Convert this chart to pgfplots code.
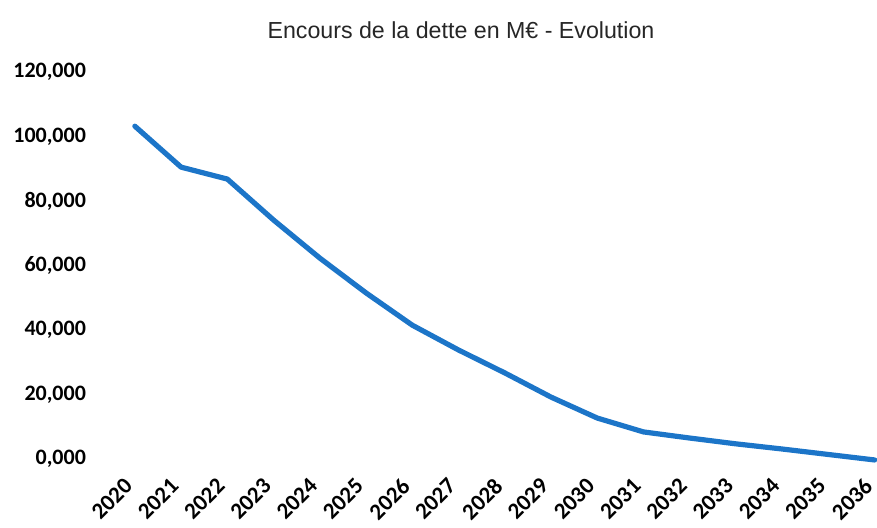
\documentclass[border=0pt]{standalone}
\usepackage{fontspec}
\setmainfont{Carlito}
\newfontfamily\arialf{Liberation Sans}
\usepackage{pgfplots}
\pgfplotsset{compat=1.18}
\definecolor{linecol}{RGB}{28,117,200}
\begin{document}
\begin{tikzpicture}
\path[use as bounding box] (0pt,0pt) rectangle (438.5pt,263.5pt);
\node[font=\arialf\fontsize{11.6}{13}\selectfont, text=black!85] at (230.5pt,248.5pt) {Encours de la dette en M€ - Evolution};
\begin{axis}[
  at={(60.5pt,34pt)}, anchor=south west,
  scale only axis, width=378pt, height=193.5pt,
  xmin=-0.3, xmax=16.05, ymin=0, ymax=120,
  axis line style={draw=none},
  major tick length=0pt,
  xtick={0,...,16},
  xticklabels={2020,2021,2022,2023,2024,2025,2026,2027,2028,2029,2030,2031,2032,2033,2034,2035,2036},
  ytick={0,20,...,120},
  /pgf/number format/assume math mode=true,
  yticklabel style={font=\bfseries\fontsize{11}{13}\selectfont, anchor=east, xshift=-14pt,
    /pgf/number format/.cd, fixed, fixed zerofill, precision=3, use comma, 1000 sep={}},
  xticklabel style={font=\bfseries\fontsize{11.5}{14}\selectfont, xshift=-6pt, yshift=-4pt, rotate=45, anchor=north east},
  clip=false,
]
\addplot[color=linecol, line width=2.6pt, line join=round, line cap=round] coordinates {
(0,103.2) (1,90.5) (2,86.8) (3,74.1) (4,62.3) (5,51.5) (6,41.5) (7,33.8) (8,26.7) (9,19.2) (10,12.7) (11,8.4) (12,6.5) (13,4.7) (14,3.1) (15,1.4) (16,-0.3)
};
\end{axis}
\end{tikzpicture}
\end{document}
